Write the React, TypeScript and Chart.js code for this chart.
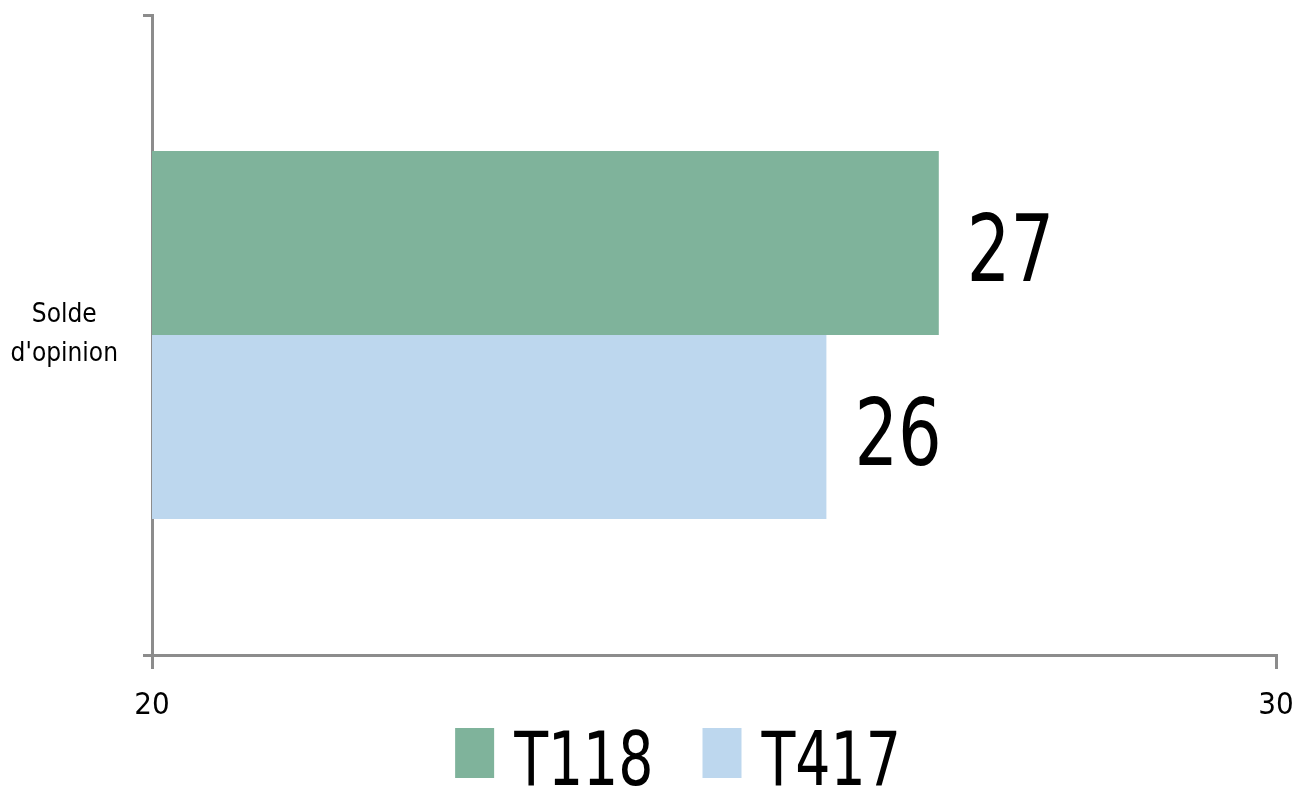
import React, { useEffect, useRef } from "react";
import { Chart, registerables } from "chart.js";

Chart.register(...registerables);

const categories: (string | string[])[] = [["Solde", "d'opinion"]];
const seriesNames = ["T118", "T417"];
const t118Values = [27];
const t417Values = [26];
const xTicks = [20, 30];
const seriesColors = ["#7fb39b", "#bdd7ee"];

const FONT = "'DejaVu Sans Condensed', 'DejaVu Sans', sans-serif";
const AXIS_COLOR = "#8c8c8c";
const SX = 0.82;

function drawScaledText(ctx: CanvasRenderingContext2D, text: string, x: number, y: number) {
  ctx.save();
  ctx.translate(x, y);
  ctx.scale(SX, 1);
  ctx.fillText(text, 0, 0);
  ctx.restore();
}

const valueLabelPlugin = {
  id: "valueLabels",
  afterDatasetsDraw(chart: any) {
    const ctx = chart.ctx;
    ctx.save();
    ctx.fillStyle = "#000";
    ctx.font = `93px ${FONT}`;
    ctx.textAlign = "left";
    ctx.textBaseline = "middle";
    chart.data.datasets.forEach((ds: any, i: number) => {
      const meta = chart.getDatasetMeta(i);
      meta.data.forEach((el: any, j: number) => {
        drawScaledText(ctx, String(ds.data[j]), el.x + 28, el.y + 14);
      });
    });
    ctx.restore();
  },
};

const customLegendPlugin = {
  id: "customLegend",
  afterDraw(chart: any) {
    const ctx = chart.ctx;
    ctx.save();
    ctx.font = `75px ${FONT}`;
    ctx.textBaseline = "alphabetic";
    ctx.textAlign = "left";
    const boxW = 39;
    const boxH = 50;
    const gap = 20;
    const itemGap = 49;
    const items = chart.data.datasets.map((ds: any) => ({
      label: ds.label,
      color: ds.backgroundColor,
      w: ctx.measureText(ds.label).width * SX,
    }));
    const total =
      items.reduce((s: number, it: any) => s + boxW + gap + it.w, 0) +
      itemGap * (items.length - 1);
    let x = 670 - total / 2;
    const boxTop = 720;
    const baseline = 777;
    items.forEach((it: any) => {
      ctx.fillStyle = it.color;
      ctx.fillRect(x, boxTop, boxW, boxH);
      ctx.fillStyle = "#000";
      drawScaledText(ctx, it.label, x + boxW + gap, baseline);
      x += boxW + gap + it.w + itemGap;
    });
    ctx.restore();
  },
};

export default function App() {
  const canvasRef = useRef<HTMLCanvasElement>(null);

  useEffect(() => {
    if (!canvasRef.current) return;
    const chart = new Chart(canvasRef.current, {
      type: "bar",
      data: {
        labels: categories,
        datasets: [
          {
            label: seriesNames[0],
            data: t118Values,
            backgroundColor: seriesColors[0],
            categoryPercentage: 0.575,
            barPercentage: 1,
          },
          {
            label: seriesNames[1],
            data: t417Values,
            backgroundColor: seriesColors[1],
            categoryPercentage: 0.575,
            barPercentage: 1,
          },
        ],
      },
      options: {
        indexAxis: "y",
        responsive: true,
        maintainAspectRatio: false,
        animation: false,
        layout: { padding: { top: 7, right: 17, bottom: 74, left: 0 } },
        plugins: {
          legend: { display: false },
          tooltip: { enabled: false },
        },
        scales: {
          x: {
            type: "linear",
            min: xTicks[0],
            max: xTicks[xTicks.length - 1],
            z: 1,
            afterBuildTicks: (scale: any) => {
              scale.ticks = xTicks.map((v) => ({ value: v }));
            },
            afterFit: (scale: any) => {
              scale.height = 60;
              scale.paddingLeft = 0;
              scale.paddingRight = 0;
            },
            grid: {
              drawOnChartArea: false,
              drawTicks: true,
              tickLength: 14,
              color: AXIS_COLOR,
              lineWidth: 3,
            },
            border: { display: true, color: AXIS_COLOR, width: 3 },
            ticks: {
              color: "#000",
              padding: 18,
              font: { family: FONT, size: 31 },
              maxRotation: 0,
              autoSkip: false,
            },
          },
          y: {
            type: "category",
            z: 1,
            afterFit: (scale: any) => {
              scale.width = 144;
              scale.paddingTop = 0;
              scale.paddingBottom = 0;
            },
            grid: {
              offset: true,
              drawOnChartArea: false,
              drawTicks: true,
              tickLength: 9,
              color: AXIS_COLOR,
              lineWidth: 3,
            },
            border: { display: true, color: AXIS_COLOR, width: 3 },
            ticks: {
              color: "#000",
              padding: 25,
              crossAlign: "center",
              font: { family: FONT, size: 26, lineHeight: 1.5 },
            },
          },
        },
      },
      plugins: [valueLabelPlugin, customLegendPlugin],
    } as any);
    return () => chart.destroy();
  }, []);

  return (
    <div style={{ position: "relative", width: "100%", height: 781 }}>
      <canvas ref={canvasRef} />
    </div>
  );
}
